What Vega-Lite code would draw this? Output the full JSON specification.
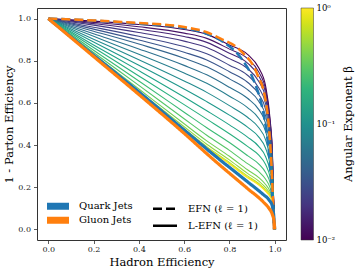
{
"$schema": "https://vega.github.io/schema/vega-lite/v6.json",
"width": 249, "height": 232,
"autosize": {"type": "none"},
"padding": {"left": 37, "top": 8, "right": 71, "bottom": 34},
"background": "white",
"config": {
  "view": {"stroke": "#333", "strokeWidth": 1},
  "font": "DejaVu Serif",
  "axis": {"labelFont": "DejaVu Serif", "labelFontSize": 8, "labelColor": "#222", "titleFont": "DejaVu Serif", "titleFontSize": 11.5, "titleFontWeight": "normal", "titleColor": "black", "tickColor": "#333", "tickSize": 3.5, "tickWidth": 0.8, "domain": false, "grid": false, "labelFlush": false},
  "legend": {"labelFont": "DejaVu Serif", "titleFont": "DejaVu Serif", "titleFontWeight": "normal", "labelColor": "black", "titleColor": "black"}
},
"datasets": {
"curves": [
{"b":0.01,"x":0,"y":1},{"b":0.01,"x":0.2,"y":0.988},{"b":0.01,"x":0.4,"y":0.972},{"b":0.01,"x":0.6,"y":0.948},{"b":0.01,"x":0.7,"y":0.925},{"b":0.01,"x":0.8,"y":0.875},{"b":0.01,"x":0.88,"y":0.83},{"b":0.01,"x":0.93,"y":0.765},{"b":0.01,"x":0.96,"y":0.68},{"b":0.01,"x":0.98,"y":0.52},{"b":0.01,"x":0.99,"y":0.36},{"b":0.01,"x":0.995,"y":0.15},{"b":0.01,"x":1,"y":0},
{"b":0.01274,"x":0,"y":1},{"b":0.01274,"x":0.2,"y":0.982},{"b":0.01274,"x":0.4,"y":0.961},{"b":0.01274,"x":0.6,"y":0.931},{"b":0.01274,"x":0.7,"y":0.906},{"b":0.01274,"x":0.8,"y":0.855},{"b":0.01274,"x":0.88,"y":0.81},{"b":0.01274,"x":0.93,"y":0.746},{"b":0.01274,"x":0.96,"y":0.663},{"b":0.01274,"x":0.98,"y":0.507},{"b":0.01274,"x":0.99,"y":0.352},{"b":0.01274,"x":0.995,"y":0.148},{"b":0.01274,"x":1,"y":0},
{"b":0.01624,"x":0,"y":1},{"b":0.01624,"x":0.2,"y":0.976},{"b":0.01624,"x":0.4,"y":0.949},{"b":0.01624,"x":0.6,"y":0.915},{"b":0.01624,"x":0.7,"y":0.887},{"b":0.01624,"x":0.8,"y":0.835},{"b":0.01624,"x":0.88,"y":0.789},{"b":0.01624,"x":0.93,"y":0.726},{"b":0.01624,"x":0.96,"y":0.645},{"b":0.01624,"x":0.98,"y":0.494},{"b":0.01624,"x":0.99,"y":0.344},{"b":0.01624,"x":0.995,"y":0.145},{"b":0.01624,"x":1,"y":0},
{"b":0.02069,"x":0,"y":1},{"b":0.02069,"x":0.2,"y":0.969},{"b":0.02069,"x":0.4,"y":0.934},{"b":0.02069,"x":0.6,"y":0.893},{"b":0.02069,"x":0.7,"y":0.863},{"b":0.02069,"x":0.8,"y":0.81},{"b":0.02069,"x":0.88,"y":0.763},{"b":0.02069,"x":0.93,"y":0.701},{"b":0.02069,"x":0.96,"y":0.623},{"b":0.02069,"x":0.98,"y":0.478},{"b":0.02069,"x":0.99,"y":0.334},{"b":0.02069,"x":0.995,"y":0.142},{"b":0.02069,"x":1,"y":0},
{"b":0.02637,"x":0,"y":1},{"b":0.02637,"x":0.2,"y":0.959},{"b":0.02637,"x":0.4,"y":0.916},{"b":0.02637,"x":0.6,"y":0.867},{"b":0.02637,"x":0.7,"y":0.833},{"b":0.02637,"x":0.8,"y":0.779},{"b":0.02637,"x":0.88,"y":0.731},{"b":0.02637,"x":0.93,"y":0.671},{"b":0.02637,"x":0.96,"y":0.595},{"b":0.02637,"x":0.98,"y":0.458},{"b":0.02637,"x":0.99,"y":0.321},{"b":0.02637,"x":0.995,"y":0.138},{"b":0.02637,"x":1,"y":0},
{"b":0.0336,"x":0,"y":1},{"b":0.0336,"x":0.2,"y":0.95},{"b":0.0336,"x":0.4,"y":0.898},{"b":0.0336,"x":0.6,"y":0.84},{"b":0.0336,"x":0.7,"y":0.804},{"b":0.0336,"x":0.8,"y":0.748},{"b":0.0336,"x":0.88,"y":0.698},{"b":0.0336,"x":0.93,"y":0.64},{"b":0.0336,"x":0.96,"y":0.568},{"b":0.0336,"x":0.98,"y":0.438},{"b":0.0336,"x":0.99,"y":0.308},{"b":0.0336,"x":0.995,"y":0.134},{"b":0.0336,"x":1,"y":0},
{"b":0.04281,"x":0,"y":1},{"b":0.04281,"x":0.2,"y":0.94},{"b":0.04281,"x":0.4,"y":0.879},{"b":0.04281,"x":0.6,"y":0.812},{"b":0.04281,"x":0.7,"y":0.771},{"b":0.04281,"x":0.8,"y":0.714},{"b":0.04281,"x":0.88,"y":0.663},{"b":0.04281,"x":0.93,"y":0.607},{"b":0.04281,"x":0.96,"y":0.538},{"b":0.04281,"x":0.98,"y":0.416},{"b":0.04281,"x":0.99,"y":0.294},{"b":0.04281,"x":0.995,"y":0.13},{"b":0.04281,"x":1,"y":0},
{"b":0.05456,"x":0,"y":1},{"b":0.05456,"x":0.2,"y":0.928},{"b":0.05456,"x":0.4,"y":0.856},{"b":0.05456,"x":0.6,"y":0.778},{"b":0.05456,"x":0.7,"y":0.733},{"b":0.05456,"x":0.8,"y":0.674},{"b":0.05456,"x":0.88,"y":0.622},{"b":0.05456,"x":0.93,"y":0.568},{"b":0.05456,"x":0.96,"y":0.503},{"b":0.05456,"x":0.98,"y":0.39},{"b":0.05456,"x":0.99,"y":0.278},{"b":0.05456,"x":0.995,"y":0.125},{"b":0.05456,"x":1,"y":0},
{"b":0.06952,"x":0,"y":1},{"b":0.06952,"x":0.2,"y":0.916},{"b":0.06952,"x":0.4,"y":0.831},{"b":0.06952,"x":0.6,"y":0.742},{"b":0.06952,"x":0.7,"y":0.693},{"b":0.06952,"x":0.8,"y":0.632},{"b":0.06952,"x":0.88,"y":0.578},{"b":0.06952,"x":0.93,"y":0.526},{"b":0.06952,"x":0.96,"y":0.465},{"b":0.06952,"x":0.98,"y":0.363},{"b":0.06952,"x":0.99,"y":0.261},{"b":0.06952,"x":0.995,"y":0.12},{"b":0.06952,"x":1,"y":0},
{"b":0.08859,"x":0,"y":1},{"b":0.08859,"x":0.2,"y":0.902},{"b":0.08859,"x":0.4,"y":0.805},{"b":0.08859,"x":0.6,"y":0.704},{"b":0.08859,"x":0.7,"y":0.65},{"b":0.08859,"x":0.8,"y":0.587},{"b":0.08859,"x":0.88,"y":0.532},{"b":0.08859,"x":0.93,"y":0.482},{"b":0.08859,"x":0.96,"y":0.425},{"b":0.08859,"x":0.98,"y":0.334},{"b":0.08859,"x":0.99,"y":0.243},{"b":0.08859,"x":0.995,"y":0.114},{"b":0.08859,"x":1,"y":0},
{"b":0.1129,"x":0,"y":1},{"b":0.1129,"x":0.2,"y":0.889},{"b":0.1129,"x":0.4,"y":0.779},{"b":0.1129,"x":0.6,"y":0.666},{"b":0.1129,"x":0.7,"y":0.606},{"b":0.1129,"x":0.8,"y":0.542},{"b":0.1129,"x":0.88,"y":0.485},{"b":0.1129,"x":0.93,"y":0.438},{"b":0.1129,"x":0.96,"y":0.385},{"b":0.1129,"x":0.98,"y":0.305},{"b":0.1129,"x":0.99,"y":0.224},{"b":0.1129,"x":0.995,"y":0.109},{"b":0.1129,"x":1,"y":0},
{"b":0.1438,"x":0,"y":1},{"b":0.1438,"x":0.2,"y":0.875},{"b":0.1438,"x":0.4,"y":0.753},{"b":0.1438,"x":0.6,"y":0.628},{"b":0.1438,"x":0.7,"y":0.563},{"b":0.1438,"x":0.8,"y":0.496},{"b":0.1438,"x":0.88,"y":0.438},{"b":0.1438,"x":0.93,"y":0.393},{"b":0.1438,"x":0.96,"y":0.345},{"b":0.1438,"x":0.98,"y":0.275},{"b":0.1438,"x":0.99,"y":0.206},{"b":0.1438,"x":0.995,"y":0.103},{"b":0.1438,"x":1,"y":0},
{"b":0.1833,"x":0,"y":1},{"b":0.1833,"x":0.2,"y":0.863},{"b":0.1833,"x":0.4,"y":0.728},{"b":0.1833,"x":0.6,"y":0.592},{"b":0.1833,"x":0.7,"y":0.523},{"b":0.1833,"x":0.8,"y":0.454},{"b":0.1833,"x":0.88,"y":0.394},{"b":0.1833,"x":0.93,"y":0.352},{"b":0.1833,"x":0.96,"y":0.308},{"b":0.1833,"x":0.98,"y":0.248},{"b":0.1833,"x":0.99,"y":0.189},{"b":0.1833,"x":0.995,"y":0.098},{"b":0.1833,"x":1,"y":0},
{"b":0.2336,"x":0,"y":1},{"b":0.2336,"x":0.2,"y":0.85},{"b":0.2336,"x":0.4,"y":0.704},{"b":0.2336,"x":0.6,"y":0.556},{"b":0.2336,"x":0.7,"y":0.482},{"b":0.2336,"x":0.8,"y":0.412},{"b":0.2336,"x":0.88,"y":0.35},{"b":0.2336,"x":0.93,"y":0.31},{"b":0.2336,"x":0.96,"y":0.27},{"b":0.2336,"x":0.98,"y":0.221},{"b":0.2336,"x":0.99,"y":0.171},{"b":0.2336,"x":0.995,"y":0.093},{"b":0.2336,"x":1,"y":0},
{"b":0.2976,"x":0,"y":1},{"b":0.2976,"x":0.2,"y":0.839},{"b":0.2976,"x":0.4,"y":0.683},{"b":0.2976,"x":0.6,"y":0.525},{"b":0.2976,"x":0.7,"y":0.447},{"b":0.2976,"x":0.8,"y":0.375},{"b":0.2976,"x":0.88,"y":0.312},{"b":0.2976,"x":0.93,"y":0.274},{"b":0.2976,"x":0.96,"y":0.238},{"b":0.2976,"x":0.98,"y":0.197},{"b":0.2976,"x":0.99,"y":0.156},{"b":0.2976,"x":0.995,"y":0.088},{"b":0.2976,"x":1,"y":0},
{"b":0.3793,"x":0,"y":1},{"b":0.3793,"x":0.2,"y":0.831},{"b":0.3793,"x":0.4,"y":0.666},{"b":0.3793,"x":0.6,"y":0.501},{"b":0.3793,"x":0.7,"y":0.42},{"b":0.3793,"x":0.8,"y":0.347},{"b":0.3793,"x":0.88,"y":0.283},{"b":0.3793,"x":0.93,"y":0.246},{"b":0.3793,"x":0.96,"y":0.213},{"b":0.3793,"x":0.98,"y":0.179},{"b":0.3793,"x":0.99,"y":0.145},{"b":0.3793,"x":0.995,"y":0.085},{"b":0.3793,"x":1,"y":0},
{"b":0.4833,"x":0,"y":1},{"b":0.4833,"x":0.2,"y":0.826},{"b":0.4833,"x":0.4,"y":0.656},{"b":0.4833,"x":0.6,"y":0.487},{"b":0.4833,"x":0.7,"y":0.404},{"b":0.4833,"x":0.8,"y":0.33},{"b":0.4833,"x":0.88,"y":0.266},{"b":0.4833,"x":0.93,"y":0.229},{"b":0.4833,"x":0.96,"y":0.198},{"b":0.4833,"x":0.98,"y":0.168},{"b":0.4833,"x":0.99,"y":0.138},{"b":0.4833,"x":0.995,"y":0.082},{"b":0.4833,"x":1,"y":0},
{"b":0.6158,"x":0,"y":1},{"b":0.6158,"x":0.2,"y":0.823},{"b":0.6158,"x":0.4,"y":0.65},{"b":0.6158,"x":0.6,"y":0.477},{"b":0.6158,"x":0.7,"y":0.393},{"b":0.6158,"x":0.8,"y":0.318},{"b":0.6158,"x":0.88,"y":0.254},{"b":0.6158,"x":0.93,"y":0.218},{"b":0.6158,"x":0.96,"y":0.188},{"b":0.6158,"x":0.98,"y":0.16},{"b":0.6158,"x":0.99,"y":0.133},{"b":0.6158,"x":0.995,"y":0.081},{"b":0.6158,"x":1,"y":0},
{"b":0.7848,"x":0,"y":1},{"b":0.7848,"x":0.2,"y":0.821},{"b":0.7848,"x":0.4,"y":0.647},{"b":0.7848,"x":0.6,"y":0.472},{"b":0.7848,"x":0.7,"y":0.388},{"b":0.7848,"x":0.8,"y":0.313},{"b":0.7848,"x":0.88,"y":0.248},{"b":0.7848,"x":0.93,"y":0.213},{"b":0.7848,"x":0.96,"y":0.183},{"b":0.7848,"x":0.98,"y":0.157},{"b":0.7848,"x":0.99,"y":0.131},{"b":0.7848,"x":0.995,"y":0.08},{"b":0.7848,"x":1,"y":0},
{"b":1,"x":0,"y":1},{"b":1,"x":0.2,"y":0.82},{"b":1,"x":0.4,"y":0.645},{"b":1,"x":0.6,"y":0.47},{"b":1,"x":0.7,"y":0.385},{"b":1,"x":0.8,"y":0.31},{"b":1,"x":0.88,"y":0.245},{"b":1,"x":0.93,"y":0.21},{"b":1,"x":0.96,"y":0.18},{"b":1,"x":0.98,"y":0.155},{"b":1,"x":0.99,"y":0.13},{"b":1,"x":0.995,"y":0.08},{"b":1,"x":1,"y":0}
],
"models": [
{"model":"EFN (ℓ = 1)","jet":"Quark Jets","x":0,"y":1},{"model":"EFN (ℓ = 1)","jet":"Quark Jets","x":0.2,"y":0.99},{"model":"EFN (ℓ = 1)","jet":"Quark Jets","x":0.4,"y":0.976},{"model":"EFN (ℓ = 1)","jet":"Quark Jets","x":0.6,"y":0.955},{"model":"EFN (ℓ = 1)","jet":"Quark Jets","x":0.7,"y":0.928},{"model":"EFN (ℓ = 1)","jet":"Quark Jets","x":0.775,"y":0.887},{"model":"EFN (ℓ = 1)","jet":"Quark Jets","x":0.849,"y":0.816},{"model":"EFN (ℓ = 1)","jet":"Quark Jets","x":0.908,"y":0.705},{"model":"EFN (ℓ = 1)","jet":"Quark Jets","x":0.945,"y":0.578},{"model":"EFN (ℓ = 1)","jet":"Quark Jets","x":0.96,"y":0.49},{"model":"EFN (ℓ = 1)","jet":"Quark Jets","x":0.975,"y":0.36},{"model":"EFN (ℓ = 1)","jet":"Quark Jets","x":0.985,"y":0.22},{"model":"EFN (ℓ = 1)","jet":"Quark Jets","x":0.992,"y":0.1},{"model":"EFN (ℓ = 1)","jet":"Quark Jets","x":0.997,"y":0},
{"model":"EFN (ℓ = 1)","jet":"Gluon Jets","x":0,"y":1},{"model":"EFN (ℓ = 1)","jet":"Gluon Jets","x":0.2,"y":0.991},{"model":"EFN (ℓ = 1)","jet":"Gluon Jets","x":0.4,"y":0.979},{"model":"EFN (ℓ = 1)","jet":"Gluon Jets","x":0.6,"y":0.96},{"model":"EFN (ℓ = 1)","jet":"Gluon Jets","x":0.7,"y":0.935},{"model":"EFN (ℓ = 1)","jet":"Gluon Jets","x":0.761,"y":0.905},{"model":"EFN (ℓ = 1)","jet":"Gluon Jets","x":0.849,"y":0.848},{"model":"EFN (ℓ = 1)","jet":"Gluon Jets","x":0.923,"y":0.736},{"model":"EFN (ℓ = 1)","jet":"Gluon Jets","x":0.96,"y":0.61},{"model":"EFN (ℓ = 1)","jet":"Gluon Jets","x":0.975,"y":0.482},{"model":"EFN (ℓ = 1)","jet":"Gluon Jets","x":0.985,"y":0.32},{"model":"EFN (ℓ = 1)","jet":"Gluon Jets","x":0.992,"y":0.15},{"model":"EFN (ℓ = 1)","jet":"Gluon Jets","x":0.997,"y":0},
{"model":"L-EFN (ℓ = 1)","jet":"Quark Jets","x":0,"y":1},{"model":"L-EFN (ℓ = 1)","jet":"Quark Jets","x":0.2,"y":0.826},{"model":"L-EFN (ℓ = 1)","jet":"Quark Jets","x":0.4,"y":0.652},{"model":"L-EFN (ℓ = 1)","jet":"Quark Jets","x":0.583,"y":0.487},{"model":"L-EFN (ℓ = 1)","jet":"Quark Jets","x":0.731,"y":0.354},{"model":"L-EFN (ℓ = 1)","jet":"Quark Jets","x":0.879,"y":0.227},{"model":"L-EFN (ℓ = 1)","jet":"Quark Jets","x":0.95,"y":0.165},{"model":"L-EFN (ℓ = 1)","jet":"Quark Jets","x":0.975,"y":0.14},{"model":"L-EFN (ℓ = 1)","jet":"Quark Jets","x":0.99,"y":0.11},{"model":"L-EFN (ℓ = 1)","jet":"Quark Jets","x":0.997,"y":0.05},{"model":"L-EFN (ℓ = 1)","jet":"Quark Jets","x":1,"y":0},
{"model":"L-EFN (ℓ = 1)","jet":"Gluon Jets","x":0,"y":1},{"model":"L-EFN (ℓ = 1)","jet":"Gluon Jets","x":0.2,"y":0.82},{"model":"L-EFN (ℓ = 1)","jet":"Gluon Jets","x":0.4,"y":0.64},{"model":"L-EFN (ℓ = 1)","jet":"Gluon Jets","x":0.583,"y":0.472},{"model":"L-EFN (ℓ = 1)","jet":"Gluon Jets","x":0.731,"y":0.33},{"model":"L-EFN (ℓ = 1)","jet":"Gluon Jets","x":0.879,"y":0.195},{"model":"L-EFN (ℓ = 1)","jet":"Gluon Jets","x":0.95,"y":0.13},{"model":"L-EFN (ℓ = 1)","jet":"Gluon Jets","x":0.975,"y":0.1},{"model":"L-EFN (ℓ = 1)","jet":"Gluon Jets","x":0.99,"y":0.07},{"model":"L-EFN (ℓ = 1)","jet":"Gluon Jets","x":0.997,"y":0.04},{"model":"L-EFN (ℓ = 1)","jet":"Gluon Jets","x":1,"y":0}
]
},
"layer": [
{
  "data": {"name": "curves"},
  "mark": {"type": "line", "strokeWidth": 1.1, "interpolate": "monotone"},
  "encoding": {
    "x": {"field": "x", "type": "quantitative", "scale": {"domain": [-0.05, 1.05], "nice": false, "zero": false},
          "axis": {"values": [0, 0.2, 0.4, 0.6, 0.8, 1], "format": ".1f", "title": "Hadron Efficiency", "labelPadding": 2, "titlePadding": 3}},
    "y": {"field": "y", "type": "quantitative", "scale": {"domain": [-0.05, 1.05], "nice": false, "zero": false},
          "axis": {"values": [0, 0.2, 0.4, 0.6, 0.8, 1], "format": ".1f", "title": "1 - Parton Efficiency", "labelPadding": 3, "titlePadding": 3}},
    "detail": {"field": "b", "type": "nominal"},
    "color": {"field": "b", "type": "quantitative", "scale": {"type": "log", "domain": [0.01, 1], "scheme": "viridis"},
      "legend": {"orient": "right", "offset": 15, "title": "Angular Exponent β", "titleOrient": "right", "titleFontSize": 11.5, "titleAnchor": "middle", "titlePadding": 8,
        "gradientLength": 232, "gradientThickness": 12.5, "values": [0.01, 0.1, 1],
        "labelExpr": "datum.value > 0.5 ? '10⁰' : datum.value > 0.05 ? '10⁻¹' : '10⁻²'",
        "labelFontSize": 8.5, "labelOffset": 3, "padding": 0, "gradientStrokeColor": "#333", "gradientStrokeWidth": 0.5,
        "encode": {"title": {"update": {"angle": {"value": 270}, "baseline": {"value": "top"}}}, "labels": {"update": {"baseline": {"value": "middle"}}}}}}
  }
},
{
  "data": {"name": "models"},
  "transform": [{"filter": "datum.model == 'EFN (ℓ = 1)'"}],
  "mark": {"type": "line", "strokeWidth": 2.5, "interpolate": "monotone"},
  "encoding": {
    "x": {"field": "x", "type": "quantitative"},
    "y": {"field": "y", "type": "quantitative"},
    "detail": {"field": "jet", "type": "nominal"},
    "stroke": {"field": "jet", "type": "nominal", "scale": {"domain": ["Quark Jets", "Gluon Jets"], "range": ["#1f77b4", "#ff7f0e"]},
      "legend": {"orient": "none", "legendX": 16, "legendY": 193.25, "title": null, "symbolType": "M-2.2,-0.7H2.2V0.7H-2.2Z", "symbolSize": 100,
        "labelFontSize": 10, "labelOffset": 16, "rowPadding": 4, "padding": 0,
        "encode": {"symbols": {"update": {"fill": {"scale": "stroke", "field": "value"}, "strokeWidth": {"value": 0}, "opacity": {"value": 1}}}}}},
    "strokeDash": {"field": "model", "type": "nominal", "scale": {"domain": ["EFN (ℓ = 1)", "L-EFN (ℓ = 1)"], "range": [[9, 4], [1, 0]]},
      "legend": {"orient": "none", "legendX": 121.5, "legendY": 194.25, "title": null, "symbolType": "M-2.4,0H2.4", "symbolSize": 100,
        "labelFontSize": 10, "labelOffset": 16.5, "rowPadding": 5, "padding": 0,
        "encode": {"symbols": {"update": {"stroke": {"value": "black"}, "strokeWidth": {"value": 2.5}, "fill": {"value": "transparent"}, "opacity": {"value": 1}}}}}}
  }
},
{
  "data": {"name": "models"},
  "transform": [{"filter": "datum.model == 'L-EFN (ℓ = 1)'"}],
  "mark": {"type": "line", "strokeWidth": 3.2, "interpolate": "monotone"},
  "encoding": {
    "x": {"field": "x", "type": "quantitative"},
    "y": {"field": "y", "type": "quantitative"},
    "detail": {"field": "jet", "type": "nominal"},
    "stroke": {"field": "jet", "type": "nominal"},
    "strokeDash": {"field": "model", "type": "nominal"}
  }
}
]
}
